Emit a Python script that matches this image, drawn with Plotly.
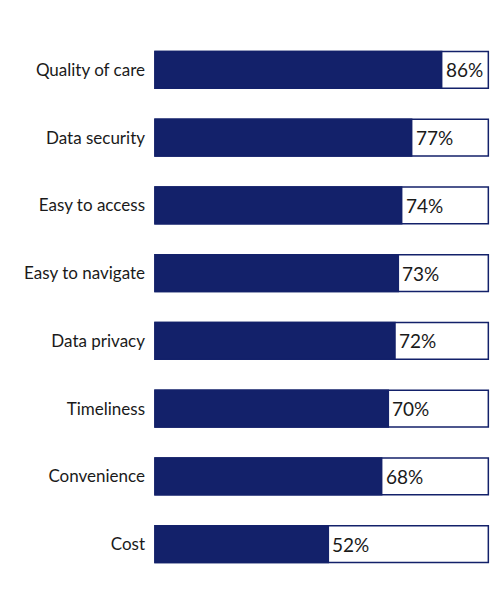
import plotly.graph_objects as go

categories = ["Quality of care", "Data security", "Easy to access", "Easy to navigate",
              "Data privacy", "Timeliness", "Convenience", "Cost"]
values = [86, 77, 74, 73, 72, 70, 68, 52]
labels = ["86%", "77%", "74%", "73%", "72%", "70%", "68%", "52%"]
total = [100] * len(categories)

NAVY = "#13216A"

fig = go.Figure()
fig.add_trace(go.Bar(
    y=categories, x=total, orientation="h",
    marker=dict(color="white", line=dict(color=NAVY, width=1.5)),
    hoverinfo="skip", showlegend=False,
))
fig.add_trace(go.Bar(
    y=categories, x=values, orientation="h",
    marker=dict(color=NAVY, line=dict(color=NAVY, width=1.5)),
    showlegend=False,
))

for c, v, t in zip(categories, values, labels):
    fig.add_annotation(x=v, y=c, text=t, xanchor="left", yanchor="middle",
                       xshift=2, showarrow=False,
                       font=dict(family="Lato", size=19, color="#1a1a1a"))

fig.update_layout(
    width=500, height=592,
    barmode="overlay", bargap=0.455,
    margin=dict(l=146, r=18, t=28, b=22, autoexpand=False),
    plot_bgcolor="white", paper_bgcolor="white",
    font=dict(family="Lato", size=17, color="#1a1a1a"),
)
fig.update_xaxes(range=[-0.3, 100.5], visible=False)
fig.update_yaxes(autorange="reversed", showgrid=False, showline=False,
                 ticks="", ticklabelstandoff=8, tickfont=dict(size=17))

fig.write_html("out.html")
